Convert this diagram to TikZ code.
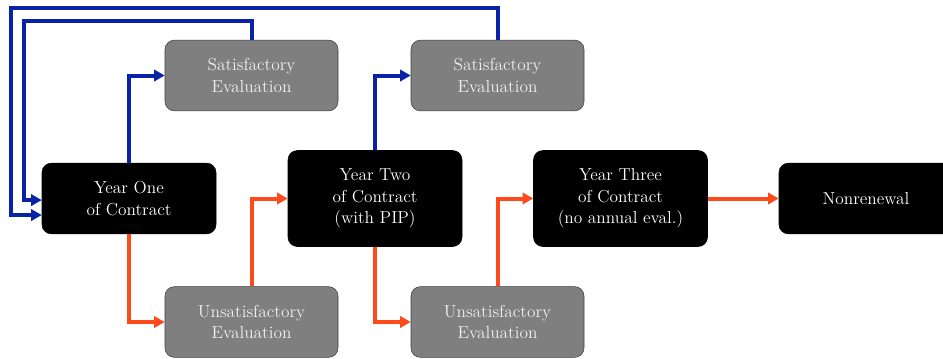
\documentclass[tikz,border=0pt]{standalone}
\usepackage{tikz}
\usetikzlibrary{arrows.meta, positioning}

\definecolor{satblue}{HTML}{0A22A6}
\definecolor{unsatred}{HTML}{FF4A1C}
\definecolor{evalgray}{HTML}{7F7F7F}
\definecolor{evaledge}{HTML}{3F3F3F}

\begin{document}
\begin{tikzpicture}[
  x=0.75pt, y=-0.75pt,
  every node/.style={font=\fontsize{13}{16.2}\selectfont, align=center},
  yearbox/.style={rectangle, rounded corners=7pt, draw=black, fill=black, text=white, minimum width=130.5pt},
  evalbox/.style={rectangle, rounded corners=7pt, draw=evaledge, fill=evalgray, text=white!94!black, minimum width=129.75pt, minimum height=53pt},
  good/.style={-{Triangle[length=8pt,width=8.5pt]}, line width=3pt, draw=satblue},
  bad/.style={-{Triangle[length=8pt,width=8.5pt]}, line width=3pt, draw=unsatred},
]
  \useasboundingbox (0,0) rectangle (943,358);

  \node[yearbox, minimum height=53pt] (Y1) at (129,198.5) {Year One\\of Contract};
  \node[yearbox, minimum height=72pt] (Y2) at (375,198.5) {Year Two\\of Contract\\(with PIP)};
  \node[yearbox, minimum height=72pt] (Y3) at (620.5,198.5) {Year Three\\of Contract\\(no annual eval.)};
  \node[yearbox, minimum height=53pt] (NR) at (866,198.5) {Nonrenewal};

  \node[evalbox] (S1) at (251.5,75.5) {Satisfactory\\Evaluation};
  \node[evalbox] (S2) at (497.5,75.5) {Satisfactory\\Evaluation};
  \node[evalbox] (U1) at (251.5,322) {Unsatisfactory\\Evaluation};
  \node[evalbox] (U2) at (497.5,322) {Unsatisfactory\\Evaluation};

  \draw[good] (Y1.north) |- (S1.west);
  \draw[good] (Y2.north) |- (S2.west);
  \draw[good] (S1.north) |- (24,21) |- ([yshift=-1.2pt]Y1.west);
  \draw[good] (S2.north) |- (11,8) |- ([yshift=-12.4pt]Y1.west);

  \draw[bad] (Y1.south) |- (U1.west);
  \draw[bad] (U1.north) |- (Y2.west);
  \draw[bad] (Y2.south) |- (U2.west);
  \draw[bad] (U2.north) |- (Y3.west);
  \draw[bad] (Y3.east) -- (NR.west);
\end{tikzpicture}
\end{document}
